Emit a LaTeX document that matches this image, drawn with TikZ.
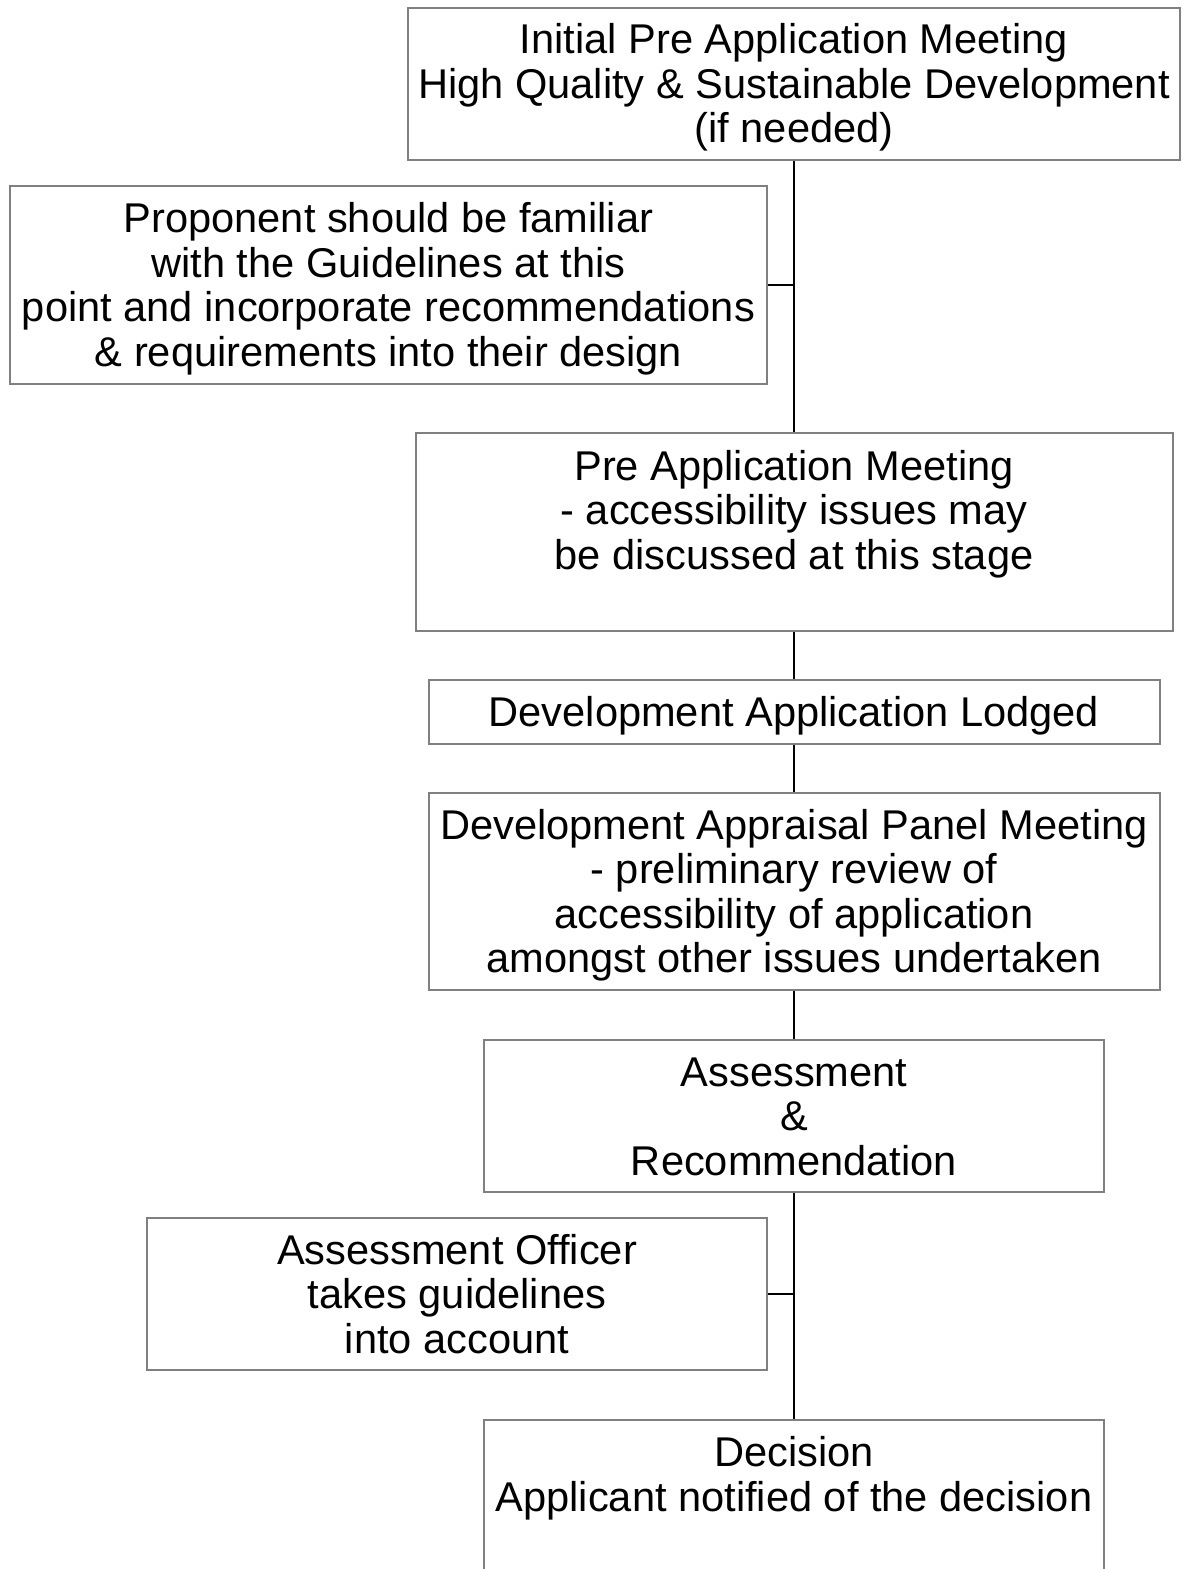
\documentclass[tikz,border=0pt]{standalone}
\usepackage{fontspec}
\setmainfont{Liberation Sans}
\usepackage{tikz}
\usetikzlibrary{positioning}
\colorlet{boxgray}{black!50}
\newcommand{\linestrut}{\vrule height 37.15pt depth 7.35pt width 0pt\relax}

\begin{document}
\lineskiplimit=-100pt\relax
\begin{tikzpicture}[x=1pt,y=-1pt,
	stepbox/.style={draw=boxgray,line width=2pt,inner sep=0pt,align=center,
		font=\fontsize{41.6pt}{44.5pt}\selectfont,
		execute at begin node=\linestrut,execute at end node=\linestrut},
	link/.style={line width=2.4pt}]
		\useasboundingbox (0,0) rectangle (1181,1569);
		\node[stepbox,minimum width=772pt,minimum height=152pt] (initial) at (794,84) {\linestrut Initial Pre Application Meeting\\High Quality \& Sustainable Development\\(if needed)};
		\node[stepbox,minimum width=757pt,minimum height=198pt] (proponent) at (388.5,285) {\linestrut Proponent should be familiar\\with the Guidelines at this\\point and incorporate recommendations\\\& requirements into their design};
		\node[stepbox,minimum width=757pt,minimum height=198pt] (preapp) at (794,532) {\linestrut Pre Application Meeting\\- accessibility issues may\\be discussed at this stage\\};
		\node[stepbox,minimum width=731pt,minimum height=64pt] (lodged) at (794,712) {Development Application Lodged};
		\node[stepbox,minimum width=731pt,minimum height=197pt] (panel) at (794,891.5) {\linestrut Development Appraisal Panel Meeting\\- preliminary review of\\accessibility of application\\amongst other issues undertaken};
		\node[stepbox,minimum width=620pt,minimum height=152pt] (assess) at (794,1116) {\linestrut Assessment\\\&\\Recommendation};
		\node[stepbox,minimum width=620pt,minimum height=152pt] (officer) at (457,1294) {\linestrut Assessment Officer\\takes guidelines\\into account};
		\node[stepbox,minimum width=620pt,minimum height=197pt] (decision) at (794,1518.5) {\linestrut Decision\\Applicant notified of the decision\\\mbox{}\\};

		\draw[link] (initial) -- (preapp);
		\draw[link] (preapp) -- (lodged);
		\draw[link] (lodged) -- (panel);
		\draw[link] (panel) -- (assess);
		\draw[link] (assess) -- (decision);
		\draw[link] (proponent.east) -- (proponent.east -| initial.south);
		\draw[link] (officer.east) -- (officer.east -| assess.south);
\end{tikzpicture}
\end{document}
